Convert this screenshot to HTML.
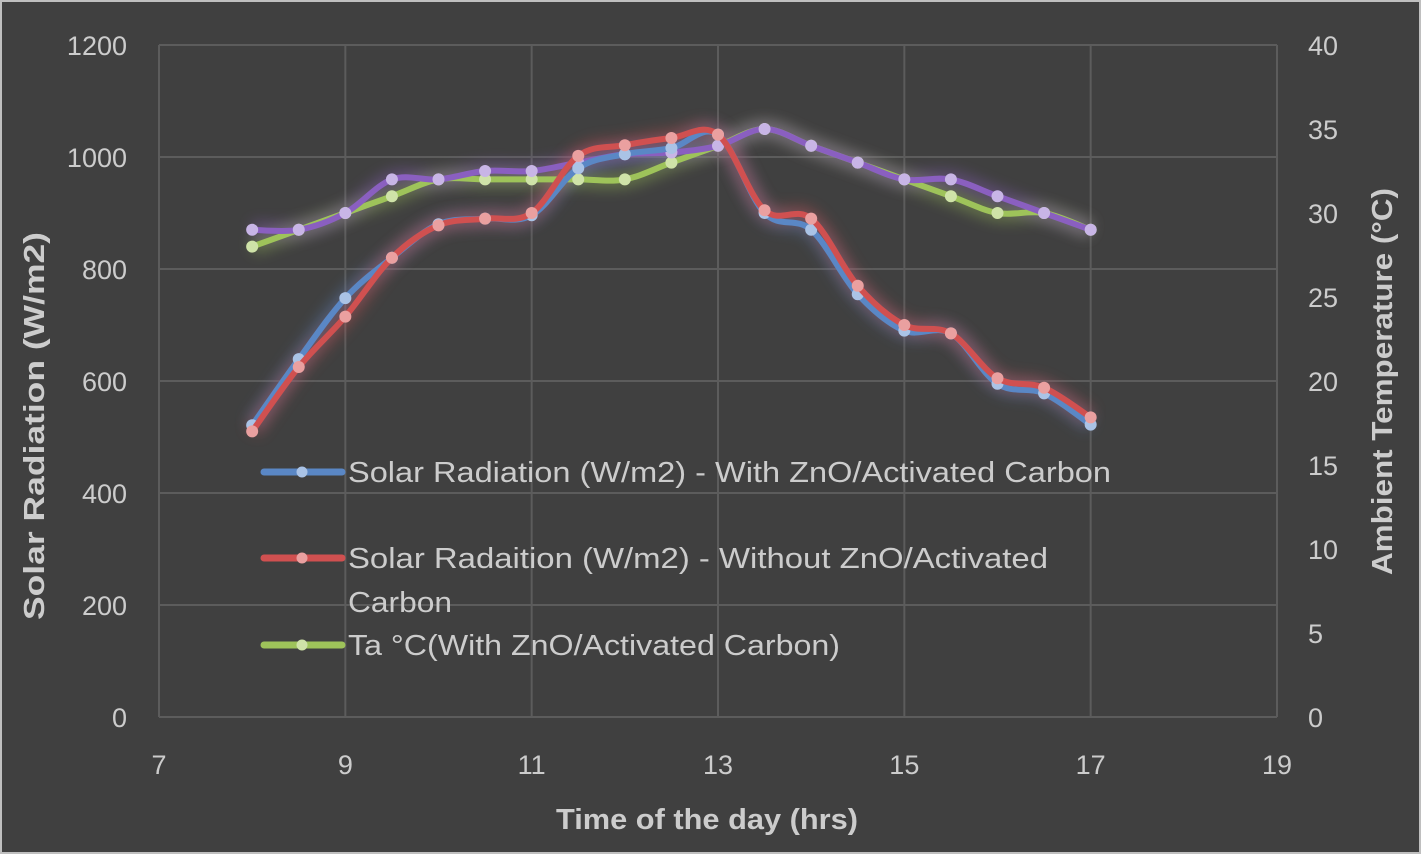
<!DOCTYPE html>
<html><head><meta charset="utf-8"><style>
html,body{margin:0;padding:0;background:#404040;}
svg{display:block;font-family:"Liberation Sans",sans-serif;}
</style></head><body>
<svg id="chart" width="1421" height="854">
<defs><filter id="glow" x="-20%" y="-20%" width="140%" height="140%"><feGaussianBlur stdDeviation="7"/></filter></defs>
<rect x="1" y="1" width="1419" height="852" fill="#404040" stroke="#bfbfbf" stroke-width="2"/>
<g id="grid"></g><g id="glows"></g><g id="series"></g><g id="axes"></g><g id="legend"></g>
</svg>
<script>
const xs=[8,8.5,9,9.5,10,10.5,11,11.5,12,12.5,13,13.5,14,14.5,15,15.5,16,16.5,17];
const radWith=[521,639,748,820,880,890,896,980,1005,1016,1040,900,870,755,690,685,595,578,522];
const radWithout=[510,625,715,820,878,890,900,1002,1021,1034,1040,905,890,770,700,685,605,588,535];
const taWith=[28,29,30,31,32,32,32,32,32,33,34,35,34,33,32,31,30,30,29];
const taWithout=[29,29,30,32,32,32.5,32.5,33,33.5,33.6,34,35,34,33,32,32,31,30,29];
const xTicks=[7,9,11,13,15,17,19];
const yTicks=[0,200,400,600,800,1000,1200];
const y2Ticks=[0,5,10,15,20,25,30,35,40];
const legendLabels=[["Solar Radiation (W/m2) - With ZnO/Activated Carbon"],["Solar Radaition (W/m2) - Without ZnO/Activated","Carbon"],["Ta °C(With ZnO/Activated Carbon)"]];
const legendWidths=[[763],[700,104],[492]];

const L=159,R=1277,T=45,B=717;
const X=v=>L+(v-7)/12*(R-L);
const Y=v=>B-v/1200*(B-T);
const Y2=v=>B-v/40*(B-T);
const NS="http://www.w3.org/2000/svg";
function mk(tag,attrs,parent,text){const e=document.createElementNS(NS,tag);for(const k in attrs)e.setAttribute(k,attrs[k]);if(text!==undefined)e.textContent=text;document.getElementById(parent).appendChild(e);return e;}
const TC="#cccccc";
yTicks.forEach(t=>{const l=mk('line',{x1:L,x2:R,y1:Y(t),y2:Y(t),stroke:'#5c5c5c','stroke-width':2},'grid');


const tx=mk('text',{x:127,y:Y(t)+10,'text-anchor':'end','font-size':27,fill:TC},'axes',t);

});
xTicks.forEach(t=>{const l=mk('line',{y1:T,y2:B,x1:X(t),x2:X(t),stroke:'#5c5c5c','stroke-width':2},'grid');


const tx=mk('text',{x:X(t),y:774,'text-anchor':'middle','font-size':27,fill:TC},'axes',t);

});
y2Ticks.forEach(t=>{const tx=mk('text',{x:1308,y:Y2(t)+10,'font-size':27,fill:TC},'axes',t);

});
let t1=mk('text',{x:556,y:829,textLength:302,lengthAdjust:'spacingAndGlyphs','font-size':29,'font-weight':'bold',fill:TC},'axes','Time of the day (hrs)');

let t2=mk('text',{x:0,y:0,transform:'translate(44,620) rotate(-90)',textLength:388,lengthAdjust:'spacingAndGlyphs','font-size':29,'font-weight':'bold',fill:TC},'axes','Solar Radiation (W/m2)');

let t3=mk('text',{x:0,y:0,transform:'translate(1392,575) rotate(-90)',textLength:387,lengthAdjust:'spacingAndGlyphs','font-size':29,'font-weight':'bold',fill:TC},'axes','Ambient Temperature (°C)');


function pathD(pts){let d=`M${pts[0][0]},${pts[0][1]}`;for(let i=0;i<pts.length-1;i++){const p0=pts[i-1]||pts[i],p1=pts[i],p2=pts[i+1],p3=pts[i+2]||p2;const c1=[p1[0]+(p2[0]-p0[0])/6,p1[1]+(p2[1]-p0[1])/6],c2=[p2[0]-(p3[0]-p1[0])/6,p2[1]-(p3[1]-p1[1])/6];d+=`C${c1[0]},${c1[1]} ${c2[0]},${c2[1]} ${p2[0]},${p2[1]}`;}return d;}
const series=[[taWith,Y2,'#9ec35a','#cfe3a8','ta-with'],[taWithout,Y2,'#8a5fc0','#c8b5e6','ta-without'],[radWith,Y,'#5a87c5','#aac3e6','radiation-with'],[radWithout,Y,'#d05050','#eaa0a0','radiation-without']];
series.forEach(([vals,yf,c,mc,name])=>{const pts=xs.map((x,i)=>[X(x),yf(vals[i])]);const d=pathD(pts);
const g=mk('path',{d,fill:'none',stroke:c,'stroke-width':16,opacity:0.4,filter:'url(#glow)'},'glows');

const p=mk('path',{d,fill:'none',stroke:c,'stroke-width':6,'stroke-linejoin':'round'},'series');

pts.forEach(q=>{const m=mk('circle',{cx:q[0],cy:q[1],r:6,fill:mc},'series');
});});
const lc=[['#5a87c5','#aac3e6',472],['#d05050','#eaa0a0',558],['#9ec35a','#cfe3a8',645]];
legendLabels.forEach((lab,i)=>{const [c,mc,y]=lc[i];
const l=mk('line',{x1:264,x2:342,y1:y,y2:y,stroke:c,'stroke-width':7,'stroke-linecap':'round'},'legend');

const m=mk('circle',{cx:302,cy:y,r:5.5,fill:mc},'legend');

lab.forEach((s,j)=>{const tx=mk('text',{x:348,y:y+10+j*44,'font-size':29,fill:TC,textLength:legendWidths[i][j],lengthAdjust:'spacingAndGlyphs'},'legend',s);
});});
</script>
</body></html>
